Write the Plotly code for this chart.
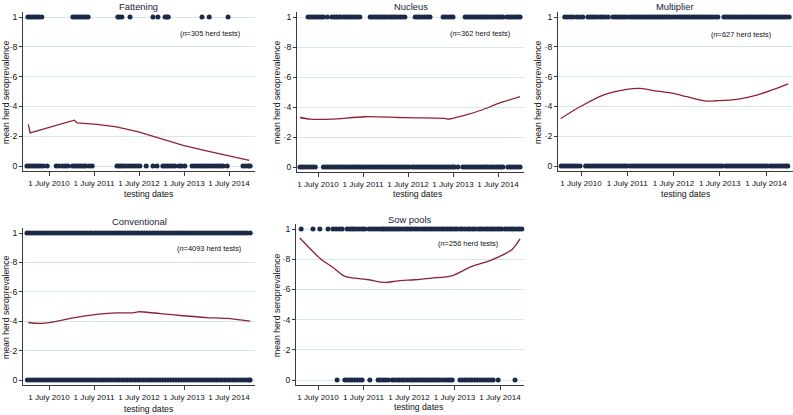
import plotly.graph_objects as go

W, H = 793, 415

# ---------------- data (decimal years) ----------------
panel_titles = ["Fattening", "Nucleus", "Multiplier", "Conventional", "Sow pools"]
n_tests = [305, 362, 627, 4093, 256]
tick_years = [2010.5, 2011.5, 2012.5, 2013.5, 2014.5]
tick_labels = ["1 July 2010", "1 July 2011", "1 July 2012", "1 July 2013", "1 July 2014"]
y_ticks = [0, 0.2, 0.4, 0.6, 0.8, 1]
y_labels = ["0", "·2", "·4", "·6", "·8", "1"]

fat_pos = [2010.03, 2010.08, 2010.13, 2010.18, 2010.23, 2010.28, 2010.34,
           2011.03, 2011.08, 2011.13, 2011.18, 2011.23, 2011.28, 2011.33, 2011.37,
           2012.03, 2012.07, 2012.12, 2012.30, 2012.81, 2012.92, 2013.08, 2013.12, 2013.15,
           2013.90, 2014.06, 2014.48]
fat_neg = [2010.01, 2010.06, 2010.11, 2010.16, 2010.21, 2010.26, 2010.31, 2010.37, 2010.46,
           2010.66, 2010.72, 2010.80, 2010.86, 2010.92,
           2011.02, 2011.07, 2011.12, 2011.17, 2011.22, 2011.27, 2011.32, 2011.40, 2011.46,
           2012.01, 2012.06, 2012.11, 2012.16, 2012.22, 2012.28, 2012.34, 2012.40, 2012.46, 2012.52,
           2012.66, 2012.81, 2012.90,
           2013.03, 2013.08, 2013.13, 2013.18, 2013.24, 2013.30, 2013.39, 2013.45, 2013.52,
           2013.68, 2013.74, 2013.80, 2013.86, 2013.92, 2013.97,
           2014.03, 2014.09, 2014.15, 2014.21, 2014.27, 2014.32, 2014.37, 2014.46,
           2014.81, 2014.87, 2014.93, 2014.97]
fat_line_t = [2010.04, 2010.08, 2011.06, 2011.12, 2011.56, 2012.00, 2012.49, 2013.12, 2013.48, 2014.00, 2014.50, 2014.95]
fat_line_v = [0.280, 0.222, 0.308, 0.290, 0.279, 0.263, 0.229, 0.169, 0.139, 0.101, 0.070, 0.038]

nuc_pos = [2010.28, 2010.33, 2010.38, 2010.43, 2010.48, 2010.53, 2010.58, 2010.62, 2010.71,
           2010.81, 2010.86, 2010.91, 2010.96, 2011.00,
           2011.07, 2011.12, 2011.17, 2011.22, 2011.27, 2011.32, 2011.37, 2011.43,
           2011.66, 2011.71, 2011.76, 2011.81, 2011.86, 2011.91, 2011.96, 2012.00,
           2012.06, 2012.11, 2012.16, 2012.21, 2012.26, 2012.32, 2012.37, 2012.43,
           2012.66, 2012.71, 2012.76, 2012.82, 2012.88, 2012.94, 2012.99,
           2013.28, 2013.33, 2013.39, 2013.45, 2013.50,
           2013.77, 2013.82, 2013.87, 2013.92, 2013.97, 2014.02, 2014.07, 2014.12, 2014.17, 2014.22, 2014.26,
           2014.32, 2014.37, 2014.42, 2014.47, 2014.52, 2014.57, 2014.61,
           2014.70, 2014.75, 2014.80, 2014.85, 2014.90, 2014.95, 2014.99]
nuc_neg = [2010.10, 2010.15, 2010.20, 2010.26, 2010.32, 2010.38, 2010.44,
           2010.62, 2010.67, 2010.72, 2010.77, 2010.82, 2010.87, 2010.92, 2010.97, 2011.02, 2011.07,
           2011.12, 2011.17, 2011.22, 2011.27, 2011.32, 2011.37, 2011.42, 2011.47, 2011.52, 2011.57,
           2011.62, 2011.67, 2011.72, 2011.77, 2011.82, 2011.87, 2011.92, 2011.97, 2012.02, 2012.07,
           2012.12, 2012.17, 2012.22, 2012.27, 2012.32, 2012.37, 2012.42, 2012.47, 2012.52,
           2012.59, 2012.64, 2012.69, 2012.74, 2012.79, 2012.84, 2012.89, 2012.94, 2012.99, 2013.04,
           2013.09, 2013.14, 2013.19, 2013.24, 2013.29, 2013.34, 2013.39, 2013.44, 2013.49, 2013.53,
           2013.61,
           2013.72, 2013.77, 2013.82, 2013.87, 2013.92, 2013.97, 2014.02, 2014.07, 2014.12, 2014.17, 2014.22, 2014.26,
           2014.32, 2014.37, 2014.42, 2014.47, 2014.52, 2014.57, 2014.61,
           2014.72, 2014.77, 2014.82, 2014.88, 2014.94, 2014.99]
nuc_line_t = [2010.10, 2010.32, 2010.80, 2011.54, 2012.28, 2012.66, 2013.32, 2013.38, 2013.77, 2014.14, 2014.51, 2014.99]
nuc_line_v = [0.330, 0.319, 0.319, 0.335, 0.330, 0.328, 0.324, 0.319, 0.346, 0.380, 0.424, 0.469]

mul_pos = [2010.15, 2010.21, 2010.27, 2010.33, 2010.41, 2010.47, 2010.54,
           2010.65, 2010.70, 2010.75, 2010.80, 2010.86, 2010.92, 2010.97, 2011.02, 2011.09,
           2011.19, 2011.24, 2011.29, 2011.34, 2011.39, 2011.44, 2011.49, 2011.56, 2011.61, 2011.66,
           2011.71, 2011.76, 2011.81, 2011.86, 2011.91, 2011.96, 2012.01, 2012.06, 2012.11, 2012.16,
           2012.21, 2012.26, 2012.31, 2012.36, 2012.41, 2012.47, 2012.53,
           2012.59, 2012.64, 2012.69, 2012.74, 2012.79, 2012.84, 2012.89, 2012.94, 2012.99, 2013.04,
           2013.09, 2013.14, 2013.19, 2013.24, 2013.29, 2013.34, 2013.40, 2013.46,
           2013.59, 2013.64, 2013.69, 2013.74, 2013.79, 2013.84, 2013.89, 2013.94, 2013.99, 2014.04,
           2014.09, 2014.14, 2014.19, 2014.24, 2014.29, 2014.34, 2014.39, 2014.44, 2014.49, 2014.54,
           2014.59, 2014.64, 2014.69, 2014.74, 2014.79, 2014.84, 2014.89, 2014.94, 2015.00]
mul_neg = [2010.07, 2010.12, 2010.17, 2010.22, 2010.27, 2010.32, 2010.37, 2010.42, 2010.48,
           2010.60, 2010.65, 2010.70, 2010.75, 2010.80, 2010.85, 2010.90, 2010.95, 2011.00, 2011.05,
           2011.10, 2011.15, 2011.20, 2011.25, 2011.30, 2011.35, 2011.40, 2011.45, 2011.49,
           2011.56, 2011.61, 2011.66, 2011.71, 2011.76, 2011.81, 2011.86, 2011.91, 2011.96, 2012.01,
           2012.06, 2012.11, 2012.16, 2012.21, 2012.26, 2012.31, 2012.36, 2012.41, 2012.46, 2012.51,
           2012.56, 2012.61, 2012.66, 2012.71, 2012.76, 2012.81, 2012.86, 2012.91, 2012.96, 2013.01,
           2013.06, 2013.11, 2013.16, 2013.21, 2013.26, 2013.31, 2013.36, 2013.41, 2013.46, 2013.51, 2013.55,
           2013.63, 2013.68, 2013.73, 2013.78, 2013.83, 2013.88, 2013.93, 2013.98, 2014.03, 2014.08,
           2014.13, 2014.18, 2014.23, 2014.28, 2014.33, 2014.38, 2014.43, 2014.48, 2014.52,
           2014.59, 2014.64, 2014.69, 2014.74, 2014.79, 2014.84, 2014.89, 2014.94, 2014.97]
mul_line_t = [2010.06, 2010.48, 2010.98, 2011.49, 2011.78, 2012.14, 2012.50, 2012.79, 2013.22, 2013.43, 2013.87, 2014.30, 2014.73, 2014.98]
mul_line_v = [0.319, 0.398, 0.476, 0.515, 0.521, 0.503, 0.488, 0.465, 0.436, 0.438, 0.447, 0.476, 0.521, 0.551]

con_pos = [2010.01, 2010.07, 2010.13, 2010.19, 2010.25, 2010.31, 2010.37, 2010.43, 2010.49,
           2010.56, 2010.62, 2010.68, 2010.74, 2010.80, 2010.86, 2010.92, 2010.98, 2011.04, 2011.10,
           2011.16, 2011.22, 2011.28, 2011.34, 2011.40, 2011.46, 2011.53, 2011.59, 2011.65, 2011.71,
           2011.77, 2011.83, 2011.89, 2011.95, 2012.01, 2012.07, 2012.13, 2012.19, 2012.25, 2012.31,
           2012.37, 2012.43, 2012.49, 2012.56, 2012.62, 2012.68, 2012.74, 2012.80, 2012.86, 2012.92,
           2012.98, 2013.04, 2013.10, 2013.16, 2013.22, 2013.28, 2013.34, 2013.40, 2013.46, 2013.51,
           2013.57, 2013.63, 2013.69, 2013.75, 2013.81, 2013.87, 2013.93, 2013.99, 2014.05, 2014.11,
           2014.17, 2014.23, 2014.29, 2014.35, 2014.41, 2014.47, 2014.54, 2014.60, 2014.66, 2014.72,
           2014.78, 2014.84, 2014.90, 2014.97]
con_neg = [2010.02, 2010.08, 2010.14, 2010.20, 2010.26, 2010.32, 2010.38, 2010.44, 2010.50,
           2010.56, 2010.62, 2010.68, 2010.74, 2010.80, 2010.86, 2010.92, 2010.98, 2011.04, 2011.10,
           2011.16, 2011.22, 2011.28, 2011.34, 2011.40, 2011.46, 2011.52, 2011.58, 2011.64, 2011.70,
           2011.76, 2011.82, 2011.88, 2011.94, 2012.00, 2012.06, 2012.12, 2012.18, 2012.24, 2012.30,
           2012.36, 2012.42, 2012.48, 2012.54, 2012.60, 2012.66, 2012.72, 2012.78, 2012.84, 2012.90,
           2012.96, 2013.02, 2013.08, 2013.14, 2013.20, 2013.26, 2013.32, 2013.38, 2013.44, 2013.50,
           2013.56, 2013.62, 2013.68, 2013.74, 2013.80, 2013.86, 2013.92, 2013.98, 2014.04, 2014.10,
           2014.16, 2014.22, 2014.28, 2014.34, 2014.40, 2014.46, 2014.52, 2014.58, 2014.64, 2014.70,
           2014.76, 2014.82, 2014.88, 2014.94, 2014.97]
con_line_t = [2010.04, 2010.30, 2010.60, 2011.04, 2011.56, 2012.00, 2012.37, 2012.48, 2012.97, 2013.48, 2014.00, 2014.45, 2014.97]
con_line_v = [0.391, 0.385, 0.396, 0.423, 0.446, 0.457, 0.457, 0.464, 0.452, 0.437, 0.425, 0.419, 0.400]

sow_pos = [2010.13, 2010.39, 2010.54, 2010.72, 2010.83, 2010.90, 2010.97, 2011.03,
           2011.14, 2011.20, 2011.25, 2011.30, 2011.36, 2011.42, 2011.48, 2011.53,
           2011.62, 2011.68, 2011.74, 2011.80, 2011.86, 2011.91,
           2011.95, 2012.00, 2012.05, 2012.10, 2012.15, 2012.20, 2012.25, 2012.30, 2012.36, 2012.42,
           2012.47, 2012.52, 2012.57,
           2012.63, 2012.68, 2012.74, 2012.80, 2012.85, 2012.90, 2012.96, 2013.01,
           2013.07, 2013.12, 2013.18, 2013.23, 2013.28, 2013.34, 2013.39, 2013.44, 2013.50, 2013.55,
           2013.62, 2013.67, 2013.73, 2013.79, 2013.84, 2013.90, 2013.95,
           2014.02, 2014.07, 2014.12, 2014.18, 2014.23, 2014.28, 2014.33, 2014.38, 2014.44, 2014.49, 2014.54,
           2014.61, 2014.66, 2014.72, 2014.77, 2014.82, 2014.88, 2014.93, 2014.98]
sow_neg = [2010.92,
           2011.09, 2011.14, 2011.20, 2011.25, 2011.31, 2011.36, 2011.42, 2011.47,
           2011.64,
           2011.82, 2011.87, 2011.93, 2011.98, 2012.04,
           2012.13, 2012.18, 2012.24, 2012.29, 2012.35, 2012.40, 2012.46,
           2012.52, 2012.57, 2012.62, 2012.67, 2012.72, 2012.77, 2012.82, 2012.87, 2012.92, 2012.97,
           2013.02, 2013.07, 2013.12, 2013.17, 2013.23, 2013.29, 2013.35, 2013.40,
           2013.45,
           2013.62, 2013.67, 2013.73, 2013.78, 2013.84, 2013.89, 2013.95, 2014.00,
           2014.06, 2014.12, 2014.18, 2014.24, 2014.30, 2014.35,
           2014.46, 2014.83]
sow_line_t = [2010.10, 2010.58, 2010.80, 2011.09, 2011.31, 2011.61, 2011.97, 2012.26, 2012.63, 2013.00, 2013.44, 2013.88, 2014.32, 2014.76, 2014.94]
sow_line_v = [0.940, 0.796, 0.752, 0.686, 0.675, 0.664, 0.646, 0.657, 0.664, 0.675, 0.690, 0.752, 0.796, 0.863, 0.934]

positives = [fat_pos, nuc_pos, mul_pos, con_pos, sow_pos]
negatives = [fat_neg, nuc_neg, mul_neg, con_neg, sow_neg]
line_t = [fat_line_t, nuc_line_t, mul_line_t, con_line_t, sow_line_t]
line_v = [fat_line_v, nuc_line_v, mul_line_v, con_line_v, sow_line_v]

# ---------------- layout geometry (pixels) ----------------
geom = [
    dict(xpx=(23, 255), ypx=(12, 171), y0=166, y1=17, t10=49, pxyr=45.0,
         title=(138, 7), ann=(242, 33), ytitle=(6, 92), xtitle=(149, 194), shape="linear"),
    dict(xpx=(297, 524), ypx=(12, 172), y0=167, y1=17, t10=318, pxyr=45.0,
         title=(411, 7), ann=(512, 33), ytitle=(277, 92), xtitle=(418, 194), shape="spline"),
    dict(xpx=(558, 793), ypx=(12, 171), y0=166, y1=17, t10=581, pxyr=46.25,
         title=(675, 7), ann=(773, 35), ytitle=(538, 92), xtitle=(686, 194), shape="spline"),
    dict(xpx=(23, 255), ypx=(228, 385), y0=380, y1=233, t10=49, pxyr=45.0,
         title=(139, 221), ann=(243, 248), ytitle=(6, 307), xtitle=(149, 409), shape="spline"),
    dict(xpx=(296, 524), ypx=(224, 385), y0=380, y1=229, t10=318, pxyr=45.5,
         title=(410, 219), ann=(500, 243), ytitle=(277, 305), xtitle=(419, 407), shape="spline"),
]

DOT = "#1b2a47"
LINE = "#8e2330"
GRID = "#d8e6ee"
AXC = "#3a3a3a"
FONT = "Liberation Sans, Arial, sans-serif"

fig = go.Figure()
annotations = []
layout = {}

for i, g in enumerate(geom):
    k = "" if i == 0 else str(i + 1)
    xa, ya = "x" + k, "y" + k
    xr = [2010.5 + (g["xpx"][0] - g["t10"]) / g["pxyr"], 2010.5 + (g["xpx"][1] - g["t10"]) / g["pxyr"]]
    u = g["y0"] - g["y1"]
    yr = [-(g["ypx"][1] - g["y0"]) / u, 1 + (g["y1"] - g["ypx"][0]) / u]
    dom_x = [g["xpx"][0] / W, min(1.0, g["xpx"][1] / W)]
    dom_y = [1 - g["ypx"][1] / H, 1 - g["ypx"][0] / H]

    fig.add_trace(go.Scatter(x=positives[i], y=[1] * len(positives[i]), mode="markers",
                             marker=dict(color=DOT, size=5, line=dict(width=0)),
                             xaxis=xa, yaxis=ya, showlegend=False, cliponaxis=False))
    fig.add_trace(go.Scatter(x=negatives[i], y=[0] * len(negatives[i]), mode="markers",
                             marker=dict(color=DOT, size=5, line=dict(width=0)),
                             xaxis=xa, yaxis=ya, showlegend=False, cliponaxis=False))
    fig.add_trace(go.Scatter(x=line_t[i], y=line_v[i], mode="lines",
                             line=dict(color=LINE, width=1.3, shape=g["shape"], smoothing=0.8),
                             xaxis=xa, yaxis=ya, showlegend=False))

    layout["xaxis" + k] = dict(domain=dom_x, range=xr, anchor=ya, showgrid=False, zeroline=False,
                               showline=True, linecolor=AXC, linewidth=1,
                               ticks="outside", ticklen=4, tickcolor=AXC, tickwidth=1,
                               tickvals=tick_years, ticktext=tick_labels, tickangle=0,
                               tickfont=dict(size=8.1, color="#111", family=FONT), automargin=False)
    layout["yaxis" + k] = dict(domain=dom_y, range=yr, anchor=xa, showgrid=True, gridcolor=GRID,
                               gridwidth=1, zeroline=False, showline=True, linecolor=AXC, linewidth=1,
                               ticks="outside", ticklen=3, tickcolor=AXC, tickwidth=1,
                               tickvals=y_ticks, ticktext=y_labels, tickangle=0,
                               tickfont=dict(size=8.7, color="#111", family=FONT), automargin=False)

    annotations.append(dict(text=panel_titles[i], x=g["title"][0] / W, y=1 - g["title"][1] / H,
                            xref="paper", yref="paper", showarrow=False, xanchor="center", yanchor="middle",
                            font=dict(size=9.4, color="#1a1a3a", family=FONT)))
    annotations.append(dict(text="(<i>n</i>=%d herd tests)" % n_tests[i], x=g["ann"][0] / W, y=1 - g["ann"][1] / H,
                            xref="paper", yref="paper", showarrow=False, xanchor="right", yanchor="middle",
                            font=dict(size=7.4, color="#111", family=FONT)))
    annotations.append(dict(text="mean herd seroprevalence", x=g["ytitle"][0] / W, y=1 - g["ytitle"][1] / H,
                            xref="paper", yref="paper", showarrow=False, xanchor="center", yanchor="middle",
                            textangle=-90, font=dict(size=8.7, color="#111", family=FONT)))
    annotations.append(dict(text="testing dates", x=g["xtitle"][0] / W, y=1 - g["xtitle"][1] / H,
                            xref="paper", yref="paper", showarrow=False, xanchor="center", yanchor="middle",
                            font=dict(size=8.7, color="#111", family=FONT)))

fig.update_layout(width=W, height=H, margin=dict(l=0, r=0, t=0, b=0),
                  paper_bgcolor="white", plot_bgcolor="white",
                  font=dict(family=FONT, color="#111"), annotations=annotations, **layout)

fig.write_html("out.html", config={"displayModeBar": False},
               post_script="document.body.style.margin='0';document.body.style.overflow='hidden';")
